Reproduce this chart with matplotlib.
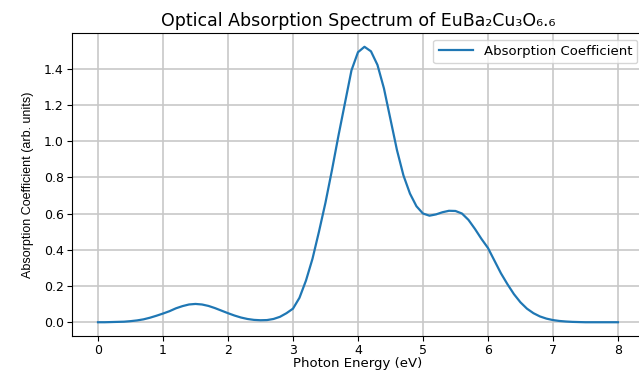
import numpy as np
import matplotlib
matplotlib.use('Agg')
import matplotlib.pyplot as plt

# photon energy grid (eV), step 0.1
energy = np.round(np.arange(0, 81) * 0.1, 1)

# absorption coefficient (arb. units)
absorption = [
    0.000, 0.000, 0.001, 0.002, 0.003, 0.006, 0.010, 0.016, 0.025, 0.036,   # 0.0 - 0.9
    0.048, 0.061, 0.077, 0.089, 0.098, 0.101, 0.098, 0.090, 0.078, 0.064,   # 1.0 - 1.9
    0.050, 0.037, 0.026, 0.018, 0.013, 0.011, 0.012, 0.018, 0.030, 0.050,   # 2.0 - 2.9
    0.075, 0.135, 0.230, 0.350, 0.500, 0.660, 0.840, 1.030, 1.210, 1.390,   # 3.0 - 3.9
    1.490, 1.520, 1.495, 1.420, 1.290, 1.120, 0.950, 0.810, 0.710, 0.640,   # 4.0 - 4.9
    0.600, 0.588, 0.595, 0.607, 0.615, 0.614, 0.600, 0.565, 0.515, 0.460,   # 5.0 - 5.9
    0.410, 0.340, 0.270, 0.210, 0.155, 0.110, 0.075, 0.050, 0.032, 0.020,   # 6.0 - 6.9
    0.012, 0.007, 0.004, 0.002, 0.001, 0.000, 0.000, 0.000, 0.000, 0.000,   # 7.0 - 7.9
    0.000,                                                                  # 8.0
]

fig = plt.figure(figsize=(6.39, 3.71), dpi=100)
ax = fig.add_axes([0.1127, 0.0943, 0.895, 0.8167])

ax.plot(energy, absorption, color='#1f77b4', linewidth=1.6,
        label='Absorption Coefficient')

ax.set_title('Optical Absorption Spectrum of EuBa₂Cu₃O₆.₆', fontsize=12.5, pad=5)
ax.set_xlabel('Photon Energy (eV)', fontsize=9.5, labelpad=0)
ax.set_ylabel('Absorption Coefficient (arb. units)', fontsize=9,
              family=['Liberation Sans', 'DejaVu Sans'], labelpad=7)
ax.tick_params(labelsize=9, pad=2.5)
ax.grid(True, color='#c8c8c8', linewidth=1.2)
ax.legend(loc='upper right', fontsize=9.5, handlelength=2.6)

fig.savefig('out.png', dpi=100)
